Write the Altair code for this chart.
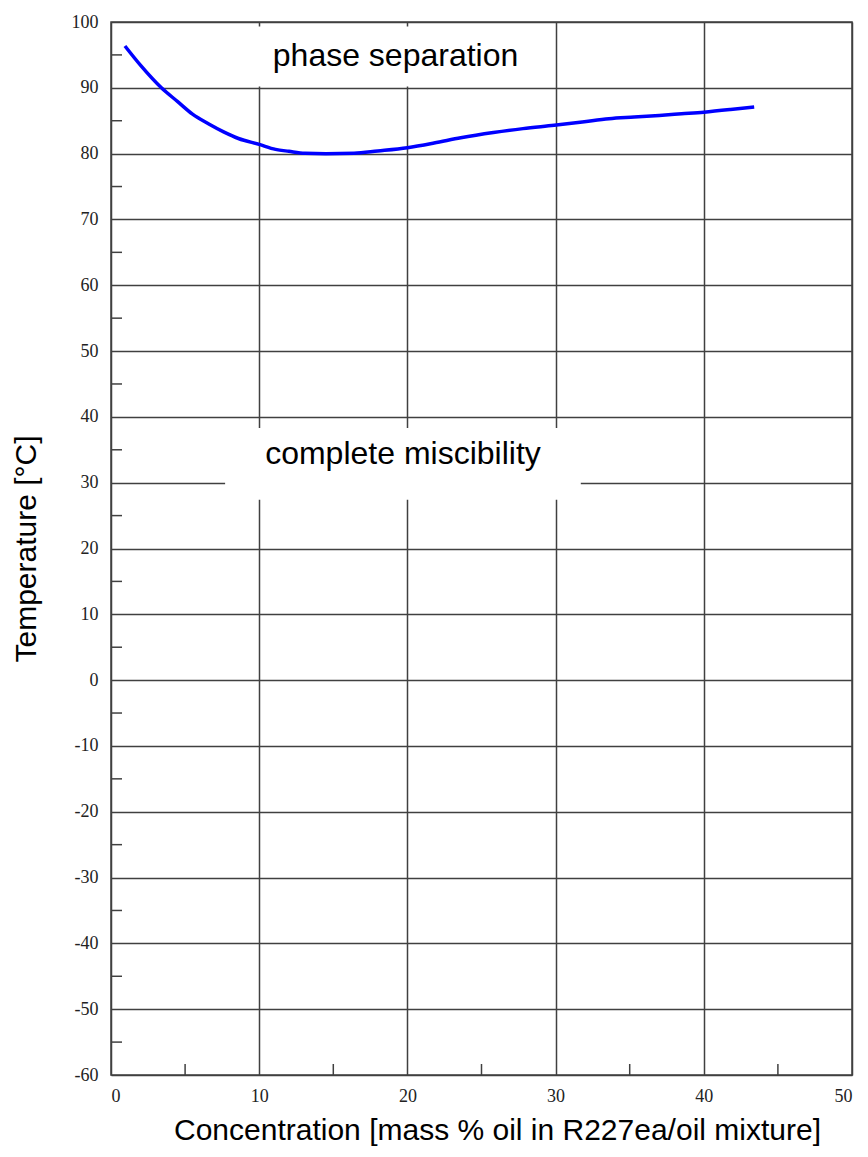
import altair as alt
import pandas as pd

# Curve: concentration (mass % oil) vs temperature (°C)
conc = [0.94, 2.0, 3.4, 4.5, 5.5, 6.6, 7.6, 8.6, 10.0, 11.1, 12.0, 13.1, 14.5, 16.4,
        18.0, 20.0, 21.8, 23.6, 25.8, 27.8, 29.9, 31.8, 33.6, 35.3, 37.0, 38.5,
        40.0, 41.8, 43.4]
temp = [96.35, 93.4, 90.0, 87.9, 86.0, 84.5, 83.3, 82.3, 81.4, 80.65, 80.35, 80.05,
        80.0, 80.05, 80.4, 80.9, 81.6, 82.4, 83.2, 83.8, 84.3, 84.8, 85.3, 85.55,
        85.8, 86.05, 86.3, 86.7, 87.1]

x_ticks = [0, 10, 20, 30, 40, 50]
y_ticks = [-60, -50, -40, -30, -20, -10, 0, 10, 20, 30, 40, 50, 60, 70, 80, 90, 100]
x_minor = [5, 15, 25, 35, 45]
y_minor = [-55, -45, -35, -25, -15, -5, 5, 15, 25, 35, 45, 55, 65, 75, 85, 95]

label_text = ["phase separation", "complete miscibility"]
label_x = [19.2, 19.7]
label_y = [94.8, 34.3]
box_x1 = [9.3, 7.7]
box_x2 = [29.0, 31.7]
box_y1 = [90.2, 27.4]
box_y2 = [99.3, 38.3]

W, H = 741, 1053
xs = alt.Scale(domain=[0, 50], nice=False, zero=False)
ys = alt.Scale(domain=[-60, 100], nice=False, zero=False)
XT = "Concentration [mass % oil in R227ea/oil mixture]"
YT = "Temperature [°C]"
LBL = "replace(datum.label, '\u2212', '-')"
xaxis = alt.Axis(values=x_ticks, ticks=False, labelPadding=12, titlePadding=10,
                 titleX=386, titleAlign="center", labelExpr=LBL)
yaxis = alt.Axis(values=y_ticks, ticks=False, labelPadding=13, titlePadding=30, labelExpr=LBL)


def X(f):
    return alt.X(f, scale=xs, title=XT, axis=xaxis)


def Y(f):
    return alt.Y(f, scale=ys, title=YT, axis=yaxis)


curve = pd.DataFrame({"x": conc, "y": temp})
labels = pd.DataFrame({"x": label_x, "y": label_y, "t": label_text})
boxes = pd.DataFrame({"x": box_x1, "x2": box_x2, "y": box_y1, "y2": box_y2})
xm = pd.DataFrame({"x": x_minor})
ym = pd.DataFrame({"y": y_minor})

line = alt.Chart(curve).mark_line(color="#0000ff", strokeWidth=3.5, interpolate="monotone").encode(
    x=X("x:Q"), y=Y("y:Q"),
)

rects = alt.Chart(boxes).mark_rect(color="white").encode(
    x=X("x:Q"), x2="x2:Q", y=Y("y:Q"), y2="y2:Q",
)

texts = alt.Chart(labels).mark_text(font="Liberation Sans", fontSize=32, color="black").encode(
    x=X("x:Q"), y=Y("y:Q"), text="t:N",
)

xminor = alt.Chart(xm).mark_rule(color="#404040", strokeWidth=1.5).encode(
    x=X("x:Q"), y=alt.value(H), y2=alt.value(H - 11),
)
yminor = alt.Chart(ym).mark_rule(color="#404040", strokeWidth=1.5).encode(
    y=Y("y:Q"), x=alt.value(0), x2=alt.value(11),
)

chart = alt.layer(line, rects, texts, xminor, yminor).properties(
    width=W, height=H,
    background="white",
    autosize=alt.AutoSizeParams(type="none"),
    padding={"left": 103, "top": 14, "right": 8, "bottom": 71},
).configure_view(
    stroke="#404040", strokeWidth=1.5,
).configure_axis(
    domain=False,
    grid=True, gridColor="#404040", gridWidth=1.5, gridOpacity=1,
    labelFont="Liberation Serif", labelFontSize=18, labelColor="#222222",
    titleFont="Liberation Sans", titleFontSize=30, titleFontWeight="normal", titleColor="black",
)

chart.save("out.html", embed_options={"renderer": "svg", "actions": False})
